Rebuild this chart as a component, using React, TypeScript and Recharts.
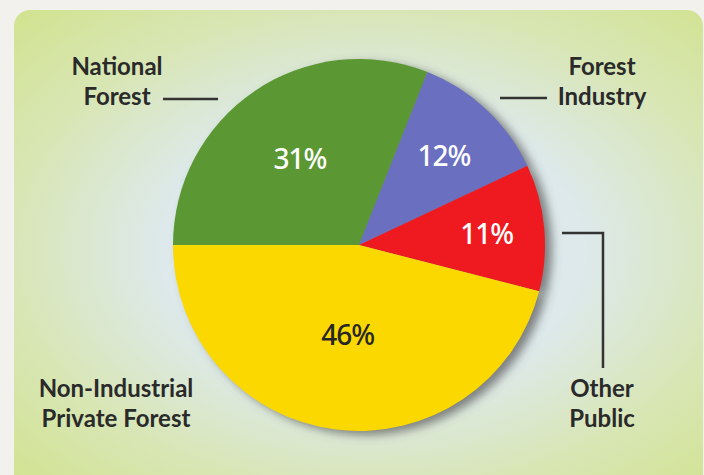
import React from "react";
import { PieChart, Pie, Cell } from "recharts";

const ownerNames = [
  "National Forest",
  "Forest Industry",
  "Other Public",
  "Non-Industrial Private Forest",
];
const ownerShares = [31, 12, 11, 46];
const sliceColors = ["#5b9733", "#6a6fc0", "#ef1a1f", "#fbd900"];
const pctColors = ["#ffffff", "#ffffff", "#ffffff", "#262626"];

// how far out (fraction of radius) each percentage sits
const pctRadius = [0.565, 0.667, 0.69, 0.484];

// outer name labels, offsets from the pie centre
const nameLabels = [
  { lines: ["National", "Forest"], dx: -242, dy: -170, leader: "M-196,-146 L-141,-146" },
  { lines: ["Forest", "Industry"], dx: 243, dy: -170, leader: "M141,-147 L188,-147" },
  { lines: ["Other", "Public"], dx: 243, dy: 152, leader: "M203,-12 L244,-12 L244,123" },
  { lines: ["Non-Industrial", "Private Forest"], dx: -243, dy: 152, leader: "" },
];

const data = ownerNames.map((name, i) => ({ name, value: ownerShares[i] }));

const RAD = Math.PI / 180;
const labelFont = "Lato, 'Open Sans', sans-serif";
const CX = 359;
const CY = 245;
const R = 186;

function renderLabel(props: any) {
  const { cx, cy, midAngle, outerRadius, index, value } = props;
  const r = outerRadius * pctRadius[index];
  const x = cx + r * Math.cos(-midAngle * RAD);
  const y = cy + r * Math.sin(-midAngle * RAD);
  const nl = nameLabels[index];
  return (
    <g>
      <text
        x={x}
        y={y}
        fill={pctColors[index]}
        textAnchor="middle"
        dominantBaseline="central"
        fontFamily="'Noto Sans', sans-serif"
        fontWeight={500}
        fontSize={28}
        letterSpacing={-1}
      >
        {value}%
      </text>
      {nl.lines.map((ln, k) => (
        <text
          key={k}
          x={cx + nl.dx}
          y={cy + nl.dy + k * 30}
          fill="#2a2a2a"
          textAnchor="middle"
          fontFamily={labelFont}
          fontWeight={700}
          fontSize={24}
        >
          {ln}
        </text>
      ))}
      {nl.leader && (
        <path
          d={nl.leader}
          transform={`translate(${cx},${cy})`}
          stroke="#333"
          strokeWidth={2.5}
          fill="none"
        />
      )}
    </g>
  );
}

export default function App() {
  return (
    <div
      style={{
        position: "absolute",
        left: 0,
        top: 0,
        width: 704,
        height: 475,
        background: "#f2f1ee",
        overflow: "hidden",
      }}
    >
      <div
        style={{
          position: "absolute",
          left: 14,
          top: 10,
          width: 689,
          height: 480,
          borderRadius: 16,
          background:
            "radial-gradient(ellipse farthest-corner at 52% 50%, #dce8ef 0%, #dde9ea 42%, #d8e6b4 72%, #d1e38f 100%)",
        }}
      />
      <div style={{ position: "absolute", left: 0, top: 0 }}>
        <PieChart width={704} height={475} margin={{ top: 0, right: 0, bottom: 0, left: 0 }}>
          <defs>
            <filter id="pieShadow" x="-20%" y="-20%" width="140%" height="140%">
              <feGaussianBlur stdDeviation="5" />
              <feOffset dx="7" dy="4" />
            </filter>
          </defs>
          <Pie
            data={data}
            dataKey="value"
            cx={CX}
            cy={CY}
            outerRadius={R}
            startAngle={180}
            endAngle={-180}
            stroke="none"
            isAnimationActive={false}
            label={false}
            labelLine={false}
          >
            {data.map((d, i) => (
              <Cell key={i} fill="#5e5e5e" fillOpacity={0.75} filter="url(#pieShadow)" />
            ))}
          </Pie>
          <Pie
            data={data}
            dataKey="value"
            cx={CX}
            cy={CY}
            outerRadius={R}
            startAngle={180}
            endAngle={-180}
            stroke="none"
            isAnimationActive={false}
            label={renderLabel}
            labelLine={false}
          >
            {data.map((d, i) => (
              <Cell key={i} fill={sliceColors[i]} />
            ))}
          </Pie>
        </PieChart>
      </div>
    </div>
  );
}
